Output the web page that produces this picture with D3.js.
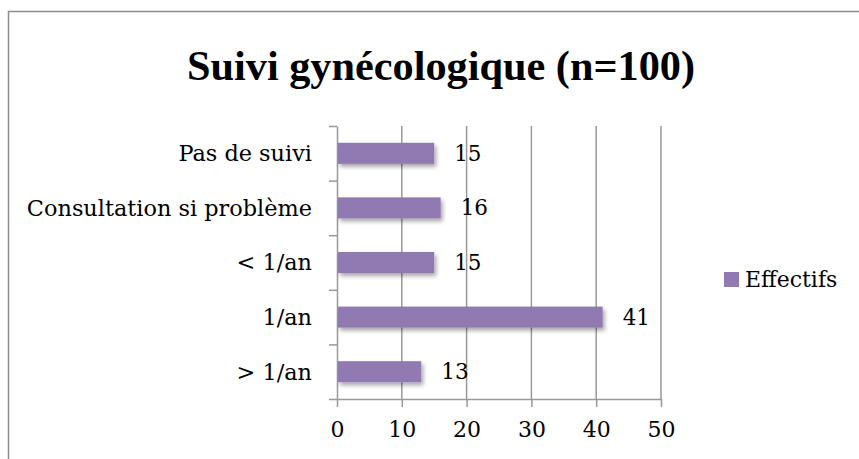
<!DOCTYPE html>
<html>
<head>
<meta charset="utf-8">
<script src="https://cdn.jsdelivr.net/npm/d3@7"></script>
<style>
  body { margin: 0; background: #fff; }
  svg { display: block; }
</style>
</head>
<body>
<div id="chart-container"></div>
<script>
// Chart data
const categories = ["Pas de suivi", "Consultation si problème", "< 1/an", "1/an", "> 1/an"];
const effectifs = [15, 16, 15, 41, 13];
const xTicks = [0, 10, 20, 30, 40, 50];
const seriesName = "Effectifs";
const title = "Suivi gynécologique (n=100)";

const width = 859;
const height = 459;
const plot = { left: 337, right: 661, top: 126, bottom: 399 };
const barColor = "#9179b1";
const gridColor = "#999";
const titleFont = "'Liberation Serif', serif";
const labelFont = "'DejaVu Serif', serif";

const svg = d3.select("#chart-container")
    .append("svg")
    .attr("width", width)
    .attr("height", height);

svg.append("rect")
    .attr("width", width)
    .attr("height", height)
    .attr("fill", "#fff");

// Drop shadow under the bars
const defs = svg.append("defs");
defs.append("filter")
    .attr("id", "shadow")
    .attr("x", "-10%").attr("y", "-30%")
    .attr("width", "130%").attr("height", "180%")
    .append("feDropShadow")
    .attr("dx", 2).attr("dy", 3)
    .attr("stdDeviation", 2)
    .attr("flood-color", "#000")
    .attr("flood-opacity", 0.35);

// Outer frame (cut off on the right and bottom)
svg.append("path")
    .attr("d", `M8.5,${height} V11.5 H${width}`)
    .attr("fill", "none")
    .attr("stroke", "#8c8c8c")
    .attr("stroke-width", 1.5);

// Title
svg.append("text")
    .attr("x", 441)
    .attr("y", 80)
    .attr("text-anchor", "middle")
    .attr("font-family", titleFont)
    .attr("font-weight", "bold")
    .attr("font-size", 42)
    .attr("textLength", 508)
    .attr("lengthAdjust", "spacingAndGlyphs")
    .text(title);

// Scales
const x = d3.scaleLinear().domain([0, 50]).range([plot.left, plot.right]);
const y = d3.scaleBand()
    .domain(categories)
    .range([plot.top, plot.bottom])
    .paddingInner(0.615)
    .paddingOuter(0.3075);
const yEdges = d3.scaleLinear().domain([0, categories.length]).range([plot.top, plot.bottom]);

// Vertical gridlines
svg.append("g")
    .selectAll("line")
    .data(xTicks.filter(d => d > 0))
    .join("line")
    .attr("x1", d => x(d)).attr("x2", d => x(d))
    .attr("y1", plot.top).attr("y2", plot.bottom)
    .attr("stroke", gridColor)
    .attr("stroke-width", 1.5);

// Bottom axis
const xAxis = svg.append("g")
    .attr("transform", `translate(0,${plot.bottom})`)
    .call(d3.axisBottom(x).tickValues(xTicks).tickSize(8).tickSizeOuter(0).tickPadding(14));
xAxis.select(".domain").attr("stroke", gridColor).attr("stroke-width", 1.5);
xAxis.selectAll(".tick line").attr("stroke", gridColor).attr("stroke-width", 1.5);
xAxis.selectAll(".tick text")
    .attr("font-family", labelFont)
    .attr("font-size", 22)
    .attr("fill", "#000");

// Left axis: ticks between the categories
const yAxis = svg.append("g")
    .attr("transform", `translate(${plot.left},0)`)
    .call(d3.axisLeft(yEdges).tickValues(d3.range(categories.length + 1)).tickSize(8).tickSizeOuter(0).tickFormat(""));
yAxis.select(".domain").attr("stroke", gridColor).attr("stroke-width", 1.5);
yAxis.selectAll(".tick line").attr("stroke", gridColor).attr("stroke-width", 1.5);

// Category labels
svg.append("g")
    .selectAll("text")
    .data(categories)
    .join("text")
    .attr("x", 312)
    .attr("y", d => y(d) + y.bandwidth() / 2)
    .attr("dy", "0.35em")
    .attr("text-anchor", "end")
    .attr("font-family", labelFont)
    .attr("font-size", 22.4)
    .attr("fill", "#000")
    .text(d => d);

// Bars
const rows = categories.map((c, i) => ({ name: c, value: effectifs[i] }));
svg.append("g")
    .selectAll("rect")
    .data(rows)
    .join("rect")
    .attr("x", x(0) + 1)
    .attr("y", d => y(d.name))
    .attr("width", d => x(d.value) - x(0) - 1)
    .attr("height", y.bandwidth())
    .attr("fill", barColor)
    .attr("filter", "url(#shadow)");

// Value labels
svg.append("g")
    .selectAll("text")
    .data(rows)
    .join("text")
    .attr("x", d => x(d.value) + 20)
    .attr("y", d => y(d.name) + y.bandwidth() / 2)
    .attr("dy", "0.35em")
    .attr("font-family", labelFont)
    .attr("font-size", 21.5)
    .attr("fill", "#000")
    .text(d => d.value);

// Legend
const legend = svg.append("g").attr("transform", "translate(724,272)");
legend.append("rect")
    .attr("width", 15)
    .attr("height", 15)
    .attr("fill", barColor);
legend.append("text")
    .attr("x", 21)
    .attr("y", 7.5)
    .attr("dy", "0.35em")
    .attr("font-family", labelFont)
    .attr("font-size", 22)
    .attr("fill", "#000")
    .text(seriesName);
</script>
</body>
</html>
